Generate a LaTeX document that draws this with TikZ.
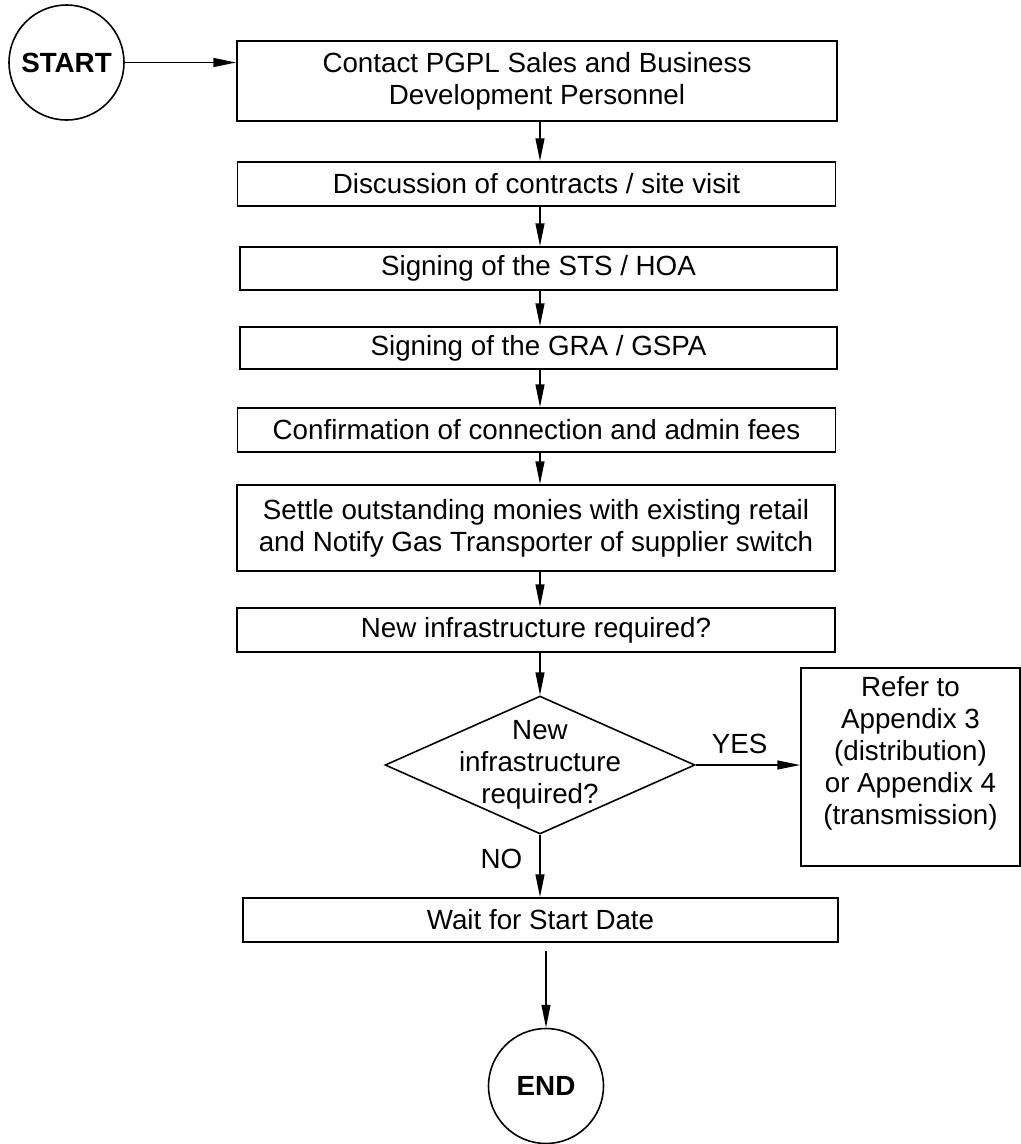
\documentclass[tikz,border=0pt]{standalone}
\usepackage{fontspec}
\setmainfont{Liberation Sans}
\usetikzlibrary{shapes.geometric,arrows.meta}

\tikzset{
  stepbox/.style={shape=rectangle,draw=black,line width=0.9pt,minimum width=11.96cm,minimum height=0.88cm,inner sep=0pt,align=center},
  decision/.style={shape=diamond,draw=black,line width=0.9pt,aspect=2.25,minimum width=6.2cm,minimum height=2.76cm,inner sep=-0.2cm,align=center},
  termnode/.style={shape=circle,draw=black,line width=0.9pt,minimum size=2.3cm,inner sep=0pt,font=\fontsize{15.8}{18.2}\selectfont\bfseries},
}

\begin{document}
\begin{tikzpicture}[x=0.02cm,y=-0.02cm,
    every node/.style={font=\fontsize{15.8}{18.2}\selectfont},
    >={Triangle[length=13pt,width=5pt]}, line width=1pt]
    \useasboundingbox (0,0) rectangle (1021,1144);

    \node[termnode] (start) at (66.5,62.5) {START};
    \node[stepbox,minimum width=12cm,minimum height=1.6cm] (contact) at (537,81) {Contact PGPL Sales and Business\\Development Personnel};
    \node[stepbox] (discuss) at (536.5,184) {Discussion of contracts / site visit};
    \node[stepbox,minimum width=11.94cm,minimum height=0.86cm] (sts) at (538.5,268.5) {Signing of the STS / HOA};
    \node[stepbox,minimum width=11.94cm,minimum height=0.84cm] (gra) at (538.5,348) {Signing of the GRA / GSPA};
    \node[stepbox] (fees) at (536.5,430) {Confirmation of connection and admin fees};
    \node[stepbox,minimum height=1.72cm] (settle) at (536,528) {Settle outstanding monies with existing retail\\and Notify Gas Transporter of supplier switch};
    \node[stepbox] (infra) at (536,630) {New infrastructure required?};
    \node[decision] (dia) at (540,765) {New\\infrastructure\\required?};
    \node[stepbox,minimum width=4.38cm,minimum height=3.96cm] (refer) at (910.5,767) {Refer to\\Appendix 3\\(distribution)\\or Appendix 4\\(transmission)\\[-0.17cm]\strut};
    \node[stepbox,minimum width=11.9cm] (wait) at (540.5,920) {Wait for Start Date};
    \node[termnode] (finish) at (546,1086) {END};

    \path [->] (start) edge (start -| contact.west);
    \path [->] (contact.south -| dia) edge (discuss.north -| dia);
    \path [->] (discuss.south -| dia) edge (sts.north -| dia);
    \path [->] (sts.south -| dia) edge (gra.north -| dia);
    \path [->] (gra.south -| dia) edge (fees.north -| dia);
    \path [->] (fees.south -| dia) edge (settle.north -| dia);
    \path [->] (settle.south -| dia) edge (infra.north -| dia);
    \path [->] (infra.south -| dia) edge (dia.north);
    \path [->] (dia.east) edge node[above=0.1cm,pos=0.42] {YES} (dia.east -| refer.west);
    \path [->] (dia.south) edge node[left=0.22cm,pos=0.38] {NO} (wait.north -| dia);
    \path [->,shorten <=0.16cm] (wait.south -| finish) edge (finish.north);
\end{tikzpicture}
\end{document}
